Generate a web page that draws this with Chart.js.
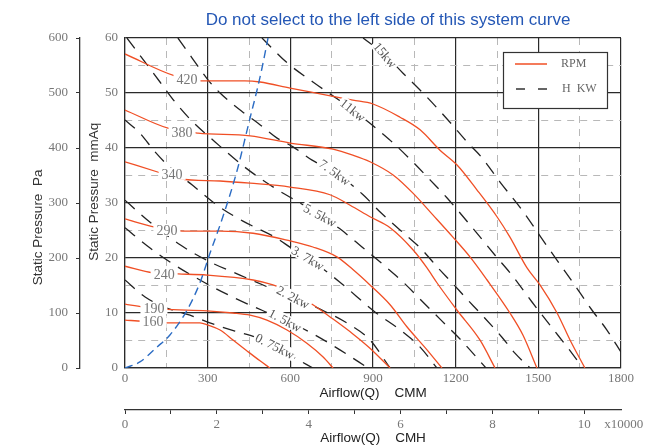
<!DOCTYPE html>
<html>
<head>
<meta charset="utf-8">
<script src="https://cdn.jsdelivr.net/npm/chart.js@4.4.0/dist/chart.umd.min.js"></script>
<style>
  html, body { margin: 0; padding: 0; background: #fff; }
  #wrap { width: 659px; height: 446px; }
</style>
</head>
<body>
<div id="wrap"><canvas id="c" width="659" height="446"></canvas></div>
<script>
// RPM curves (x = CMM, y = mmAq)
const rpmNames = ['420', '380', '340', '290', '240', '190', '160'];
const rpm420X = [0, 181, 276, 435, 490, 599, 671, 827, 900, 998, 1071, 1143, 1205, 1277, 1350, 1397, 1459, 1506, 1568, 1615, 1669];
const rpm420Y = [57.1, 53.1, 52.2, 52.2, 52.0, 50.9, 50.2, 48.7, 48.0, 45.6, 43.3, 39.6, 36.9, 32.4, 27.5, 23.8, 18.2, 15.1, 10.0, 5.1, 0];
const rpm380X = [0, 156, 265, 454, 599, 755, 827, 889, 973, 1045, 1118, 1190, 1252, 1314, 1397, 1444, 1495];
const rpm380Y = [46.9, 43.6, 42.7, 42.2, 40.9, 39.8, 38.7, 37.5, 35.1, 31.8, 27.8, 23.8, 20.2, 16.0, 10.0, 6.0, 0];
const rpm340X = [0, 127, 200, 345, 454, 599, 744, 817, 889, 962, 1045, 1096, 1132, 1205, 1288, 1343];
const rpm340Y = [37.5, 35.5, 34.4, 34.0, 33.6, 32.9, 31.5, 29.6, 27.5, 25.5, 21.5, 18.2, 15.5, 10.5, 5.1, 0];
const rpm290X = [0, 109, 210, 345, 465, 599, 682, 769, 827, 889, 962, 1023, 1096, 1150];
const rpm290Y = [27.1, 25.6, 24.9, 24.9, 24.5, 23.1, 22.0, 20.2, 17.9, 15.1, 11.5, 7.5, 3.3, 0];
const rpm240X = [0, 102, 192, 298, 465, 537, 610, 682, 755, 827, 889, 962];
const rpm240Y = [18.5, 17.3, 17.1, 16.9, 16.0, 15.1, 13.6, 11.5, 8.9, 6.2, 3.6, 0];
const rpm190X = [0, 65, 138, 298, 392, 454, 515, 588, 660, 719, 755];
const rpm190Y = [11.6, 11.1, 10.7, 10.4, 10.0, 9.6, 8.7, 6.9, 4.5, 2.0, 0];
const rpm160X = [0, 65, 138, 272, 301, 345, 392, 443, 490, 526];
const rpm160Y = [8.7, 8.5, 8.2, 8.2, 7.8, 6.9, 5.1, 3.1, 1.3, 0];
const rpmLabelX = [225, 207, 171, 152, 142, 105, 102];
const rpmLabelY = [52.5, 42.9, 35.3, 25.1, 17.1, 10.9, 8.4];

// power (H KW) lines
const kwNames = ['15kw', '11kw', '7. 5kw', '5. 5kw', '3. 7kw', '2. 2kw', '1. 5kw', '0. 75kw'];
const kw15X = [864, 944, 1009, 1089, 1172, 1245, 1296, 1361, 1441, 1524, 1626, 1695, 1749, 1800];
const kw15Y = [60, 56.9, 53.6, 49.6, 45.1, 40.9, 38.2, 33.8, 28.7, 22.7, 15.5, 10.5, 6.9, 2.9];
const kw11X = [497, 588, 682, 827, 958, 1038, 1107, 1169, 1274, 1343, 1404, 1477, 1550, 1608, 1662];
const kw11Y = [60, 55.5, 52.0, 46.9, 41.6, 37.8, 34.2, 30.9, 24.7, 20.5, 16.9, 12.0, 7.3, 3.6, 0];
const kw75X = [192, 243, 301, 345, 428, 483, 552, 610, 679, 762, 864, 925, 998, 1078, 1136, 1187, 1234, 1296, 1368, 1415, 1470];
const kw75Y = [60, 56.4, 52.4, 50.0, 46.5, 44.5, 41.8, 40.2, 37.8, 35.6, 31.5, 28.4, 25.1, 21.5, 18.2, 15.5, 12.9, 9.6, 5.6, 2.7, 0];
const kw55X = [7, 73, 127, 181, 243, 327, 435, 544, 635, 708, 780, 860, 951, 1016, 1081, 1147, 1219, 1310];
const kw55Y = [60, 55.6, 52.0, 48.4, 44.9, 41.1, 36.5, 32.7, 30.0, 27.8, 25.3, 22.0, 18.2, 15.3, 12.0, 8.7, 5.1, 0];
const kw37X = [0, 54, 109, 163, 243, 334, 428, 544, 610, 664, 780, 907, 1005, 1071, 1132];
const kw37Y = [45.1, 42.7, 39.3, 36.5, 33.3, 29.6, 26.7, 23.8, 21.6, 20.0, 15.6, 10.2, 6.7, 3.8, 0];
const kw22X = [0, 91, 200, 308, 417, 519, 610, 708, 798, 889, 962];
const kw22Y = [30.5, 26.5, 22.4, 19.3, 16.9, 14.7, 12.9, 10.7, 8.4, 5.1, 0];
const kw15sX = [0, 91, 181, 290, 399, 497, 581, 675, 780, 882];
const kw15sY = [25.5, 21.8, 18.7, 15.5, 12.7, 10.5, 8.7, 6.4, 3.3, 0];
const kw075X = [0, 73, 152, 236, 308, 399, 479, 544, 610, 682];
const kw075Y = [16.0, 12.9, 10.9, 9.6, 8.2, 6.7, 5.5, 4.0, 2.0, 0];
const kwLabelX = [944, 827, 762, 708, 664, 610, 581, 544];
const kwLabelY = [56.9, 46.9, 35.6, 27.8, 20.0, 12.9, 8.7, 4.0];
const kwLabelAngle = [50, 39, 36, 28, 31, 28, 28, 27];

// system curve
const sysX = [0, 54, 116, 163, 225, 272, 308, 345, 381, 410, 425, 454, 479, 497, 519];
const sysY = [0, 1.1, 3.8, 6.0, 10.5, 15.5, 20.8, 26, 31.5, 36.5, 39.5, 45.5, 50.5, 54.5, 60];

const RED = '#f04f25';
const BLUE = '#2b6cc4';
const INK = '#2a2a2a';
const SERIF = '"Liberation Serif", "DejaVu Serif", serif';
const SANS = '"Liberation Sans", Arial, sans-serif';

function pts(xs, ys) { return xs.map((x, i) => ({ x: x, y: ys[i] })); }

const datasets = [];
datasets.push({
  label: 'system', data: pts(sysX, sysY), borderColor: BLUE, borderWidth: 1.4,
  borderDash: [8, 5], cubicInterpolationMode: 'monotone'
});
[[rpm420X, rpm420Y], [rpm380X, rpm380Y], [rpm340X, rpm340Y], [rpm290X, rpm290Y],
 [rpm240X, rpm240Y], [rpm190X, rpm190Y], [rpm160X, rpm160Y]].forEach((s, i) => {
  datasets.push({
    label: rpmNames[i], data: pts(s[0], s[1]), borderColor: RED, borderWidth: 1.3,
    cubicInterpolationMode: 'monotone'
  });
});
[[kw15X, kw15Y], [kw11X, kw11Y], [kw75X, kw75Y], [kw55X, kw55Y], [kw37X, kw37Y],
 [kw22X, kw22Y], [kw15sX, kw15sY], [kw075X, kw075Y]].forEach((s, i) => {
  datasets.push({
    label: kwNames[i], data: pts(s[0], s[1]), borderColor: '#222', borderWidth: 1.3,
    borderDash: [13, 9], cubicInterpolationMode: 'monotone'
  });
});
datasets.forEach(d => { d.showLine = true; d.pointRadius = 0; d.fill = false; d.xAxisID = 'x'; d.yAxisID = 'y'; });

const isMajor = (c, step) => c.tick && Math.abs(c.tick.value % step) < 1e-6;

// labels on the curves, legend box, title, x10000 note
const decorations = {
  id: 'decorations',
  afterDatasetsDraw(chart) {
    const { ctx, chartArea, scales } = chart;
    const x = scales.x, y = scales.y, x2 = scales.x2;
    ctx.save();
    ctx.textAlign = 'center';
    ctx.textBaseline = 'middle';

    ctx.font = '14px ' + SERIF;
    rpmNames.forEach((t, i) => {
      const px = x.getPixelForValue(rpmLabelX[i]);
      const py = y.getPixelForValue(rpmLabelY[i]);
      const w = ctx.measureText(t).width;
      ctx.fillStyle = '#fff';
      ctx.fillRect(px - w / 2 - 3, py - 6, w + 6, 12);
      ctx.fillStyle = '#777';
      ctx.fillText(t, px, py + 1);
    });

    ctx.font = '13px ' + SERIF;
    kwNames.forEach((t, i) => {
      const px = x.getPixelForValue(kwLabelX[i]);
      const py = y.getPixelForValue(kwLabelY[i]);
      const w = ctx.measureText(t).width;
      ctx.save();
      ctx.translate(px, py);
      ctx.rotate(kwLabelAngle[i] * Math.PI / 180);
      ctx.fillStyle = '#fff';
      ctx.fillRect(-w / 2 - 2, -6, w + 4, 12);
      ctx.fillStyle = '#555';
      ctx.fillText(t, 0, 1);
      ctx.restore();
    });

    // legend box
    const lx = chartArea.right - 118, ly = chartArea.top + 14;
    ctx.fillStyle = '#fff';
    ctx.fillRect(lx, ly, 104, 56);
    ctx.strokeStyle = '#333';
    ctx.lineWidth = 1.2;
    ctx.strokeRect(lx + 0.5, ly + 0.5, 104, 56);
    ctx.strokeStyle = RED;
    ctx.lineWidth = 1.5;
    ctx.beginPath(); ctx.moveTo(lx + 12, ly + 12); ctx.lineTo(lx + 44, ly + 12); ctx.stroke();
    ctx.strokeStyle = '#333';
    ctx.setLineDash([9, 13]);
    ctx.beginPath(); ctx.moveTo(lx + 13, ly + 37); ctx.lineTo(lx + 45, ly + 37); ctx.stroke();
    ctx.setLineDash([]);
    ctx.font = '12px ' + SERIF;
    ctx.fillStyle = '#666';
    ctx.textAlign = 'left';
    ctx.fillText('RPM', lx + 58, ly + 12);
    ctx.fillText('H  KW', lx + 59, ly + 37);

    // x10000 note after the CMH ticks
    ctx.font = '13px ' + SERIF;
    ctx.fillStyle = '#777';
    ctx.fillText('x10000', x2.getPixelForValue(10) + 20, x2.top + 15);

    // headline
    ctx.font = '17px ' + SANS;
    ctx.fillStyle = '#2457b5';
    ctx.textAlign = 'center';
    ctx.fillText('Do not select to the left side of this system curve', 388, 20);
    ctx.restore();
  }
};

new Chart(document.getElementById('c'), {
  type: 'scatter',
  data: { datasets: datasets },
  options: {
    responsive: false,
    animation: false,
    devicePixelRatio: 1,
    layout: { padding: { top: 38, right: 38, left: 0, bottom: 0 } },
    plugins: { legend: { display: false }, tooltip: { enabled: false }, title: { display: false } },
    scales: {
      x: {
        type: 'linear', position: 'bottom', weight: 0, min: 0, max: 1800,
        afterFit: s => { s.height = 42; },
        ticks: {
          stepSize: 150, autoSkip: false, maxRotation: 0, padding: 3,
          color: '#777', font: { family: SERIF, size: 13 },
          callback: v => (v % 300 === 0 ? String(v) : '')
        },
        grid: {
          drawTicks: false,
          color: c => (isMajor(c, 300) ? INK : '#b8b8b8'),
          lineWidth: c => (isMajor(c, 300) ? 1.2 : 1)
        },
        border: { color: INK, width: 1.2, dash: c => (c.tick && !isMajor(c, 300) ? [7, 6] : []) },
        title: {
          display: true, text: 'Airflow(Q)    CMM', color: '#222',
          font: { family: SANS, size: 13.5 }, padding: { top: 0, bottom: 9 }
        }
      },
      x2: {
        type: 'linear', position: 'bottom', weight: 1, min: 0, max: 10.8,
        afterFit: s => { s.height = 36; },
        ticks: {
          stepSize: 1, includeBounds: false, autoSkip: false, maxRotation: 0, padding: 3,
          color: '#777', font: { family: SERIF, size: 13 },
          callback: v => (v % 2 === 0 ? String(v) : '')
        },
        grid: { drawOnChartArea: false, drawTicks: true, tickLength: 4, tickColor: '#333' },
        border: { color: '#333', width: 1.3 },
        title: {
          display: true, text: 'Airflow(Q)    CMH', color: '#222',
          font: { family: SANS, size: 13.5 }, padding: { top: 0, bottom: 0 }
        }
      },
      y: {
        type: 'linear', position: 'left', weight: 0, min: 0, max: 60,
        afterFit: s => { s.width = 45; },
        ticks: {
          stepSize: 5, autoSkip: false, padding: 7,
          color: '#777', font: { family: SERIF, size: 13 },
          callback: v => (v % 10 === 0 ? String(v) : '')
        },
        grid: {
          drawTicks: false,
          color: c => (isMajor(c, 10) ? INK : '#b8b8b8'),
          lineWidth: c => (isMajor(c, 10) ? 1.2 : 1)
        },
        border: { color: INK, width: 1.2, dash: c => (c.tick && !isMajor(c, 10) ? [7, 6] : []) },
        title: {
          display: true, text: '      Static Pressure  mmAq', color: '#333',
          font: { family: SANS, size: 13.5 }, padding: { top: 6, bottom: 0 }
        }
      },
      yPa: {
        type: 'linear', position: 'left', weight: 1, min: 0, max: 600,
        afterFit: s => { s.width = 80; },
        ticks: {
          stepSize: 100, autoSkip: false, padding: 8,
          color: '#777', font: { family: SERIF, size: 13 }
        },
        grid: { drawOnChartArea: false, drawTicks: true, tickLength: 4, tickColor: '#333' },
        border: { color: '#333', width: 1.3 },
        title: {
          display: true, text: 'Static Pressure  Pa             ', color: '#333',
          font: { family: SANS, size: 13.5 }, padding: { top: 30, bottom: 0 }
        }
      }
    }
  },
  plugins: [decorations]
});
</script>
</body>
</html>
